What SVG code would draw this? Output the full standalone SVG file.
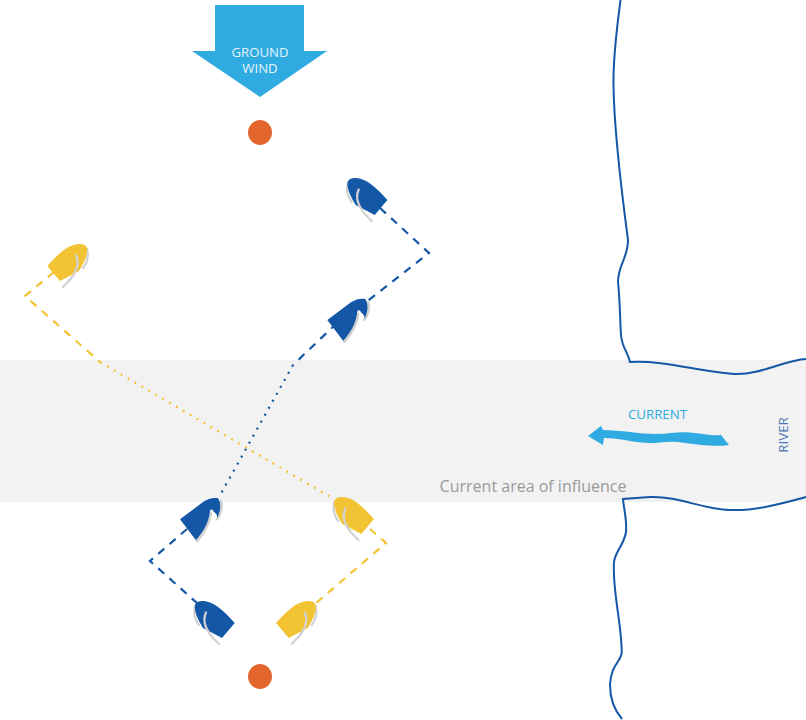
<svg xmlns="http://www.w3.org/2000/svg" width="806" height="720" viewBox="0 0 806 720">
<style>
text{font-family:"Open Sans","Noto Sans",sans-serif}
.sail{fill:none;stroke:#d2d2d2;stroke-width:2.300;stroke-linecap:round}
.shade{fill:none;stroke:#cfcfcf;stroke-width:2.400;stroke-linecap:round}
.bl{fill:#1457a6}.ye{fill:#f2c433}
.line{fill:none;stroke-width:2.200}
.dash{stroke-dasharray:8 7}
.dot{stroke-dasharray:2 6}
.river{fill:none;stroke:#1457a6;stroke-width:2}
.mark{fill:#e2662e}
</style>
<defs>
<g id="boat">
<path class="sail" d="M195,606 C193,614 195,620 199,625"/>
<path d="M234.700,623 L222,638 L203,628 C198,620 194,612 195,605 C196,602 199,600.500 204,601 C214,602 222,609 234.700,623 Z"/>
<path class="sail" d="M206,612.500 C201,623 207,633 219,644"/>
</g>
<g id="closed">
<path class="shade" d="M41,-18 C43,-11 41,-6 37,0 M31,-6 C29,5 24,14 17,22"/>
<path d="M0,0 L24,-18 C29,-21 34,-22 38,-21 C41,-17 41,-10 38,-3 L37,-1 C38,-6 34,-6 33,-9 C31,-11 30,-9 30,-8 C29,2 24,12 16,21 Z"/>
</g>
</defs>
<rect id="current-area" x="0" y="360" width="806" height="142" fill="#f2f2f2"/>
<g id="connectors">
<path class="line dash" stroke="#1457a6" d="M380,208 L429,253 L365,303"/>
<path class="line dash" stroke="#1457a6" d="M337,323 L293,365"/>
<path class="line dot" stroke="#1457a6" d="M293,365 L219,497"/>
<path class="line dash" stroke="#1457a6" d="M187,529 L150,561 L197,603"/>
<path class="line dash" stroke="#f2c433" d="M54,272 L25,296 L100,362"/>
<path class="line dot" stroke="#f2c433" d="M100,362 L334,499"/>
<path class="line dash" stroke="#f2c433" d="M370,529 L386,543 L315,604"/>
</g>
<g id="wind">
<path fill="#2fabe2" d="M215,5 H304 V51 H327 L260,97 L192,51 H215 Z"/>
<text font-size="13.200" fill="#e6f5fc" text-anchor="middle"><tspan x="260" y="57">GROUND</tspan><tspan x="260" y="73">WIND</tspan></text>
</g>
<g id="mark-top"><ellipse class="mark" cx="260" cy="132.500" rx="12" ry="12.500"/></g>
<g id="mark-bottom"><ellipse class="mark" cx="260" cy="676.500" rx="12" ry="12.500"/></g>
<g id="boat-blue-1" class="bl"><use href="#boat" transform="translate(152.700,-423)"/></g>
<g id="boat-blue-2" class="bl"><use href="#closed" transform="translate(327.300,320)"/></g>
<g id="boat-blue-3" class="bl"><use href="#closed" transform="translate(180,519.300)"/></g>
<g id="boat-blue-4" class="bl"><use href="#boat"/></g>
<g id="boat-yellow-1" class="ye"><use href="#boat" transform="translate(282,-357) scale(-1,1)"/></g>
<g id="boat-yellow-2" class="ye"><use href="#boat" transform="translate(139.300,-104)"/></g>
<g id="boat-yellow-3" class="ye"><use href="#boat" transform="translate(510.700,0) scale(-1,1)"/></g>
<g id="river">
<path class="river" d="M620.500,0 C617,28 613,55 613.500,85 C614,125 620,180 628,240 C628,258 618,265 618,282 C620,300 620,320 621,335 C622,348 628,352 630,362 C665,360 700,372 735,374 C760,375 785,360 806,359"/>
<path class="river" d="M806,497 C780,504 755,511 730,510 C700,509 680,496 650,497 L623,499 C624,510 627,520 626,532 C624,545 615,552 614,562 C612,590 622,625 621.700,653 C620,663 611,665 610,685 C610,700 616,712 622,719"/>
</g>
<g id="current">
<path fill="#2fabe2" d="M588,436 L601,426 L603,430 C620,430 640,434 655,434 C670,434 680,431 695,433 C705,434 713,436 721,435 L729,445 C715,447 700,445 685,443 C670,440 660,443 650,443 C635,443 620,438 604,438 L603,445 Z"/>
<text x="657.500" y="419" font-size="13.300" fill="#2fabe2" text-anchor="middle">CURRENT</text>
</g>
<text id="river-label" transform="translate(788,435) rotate(-90)" font-size="13.300" fill="#4a78b5" text-anchor="middle">RIVER</text>
<text id="area-label" x="533" y="492" font-size="16" fill="#9a9a9a" text-anchor="middle">Current area of influence</text>
</svg>
